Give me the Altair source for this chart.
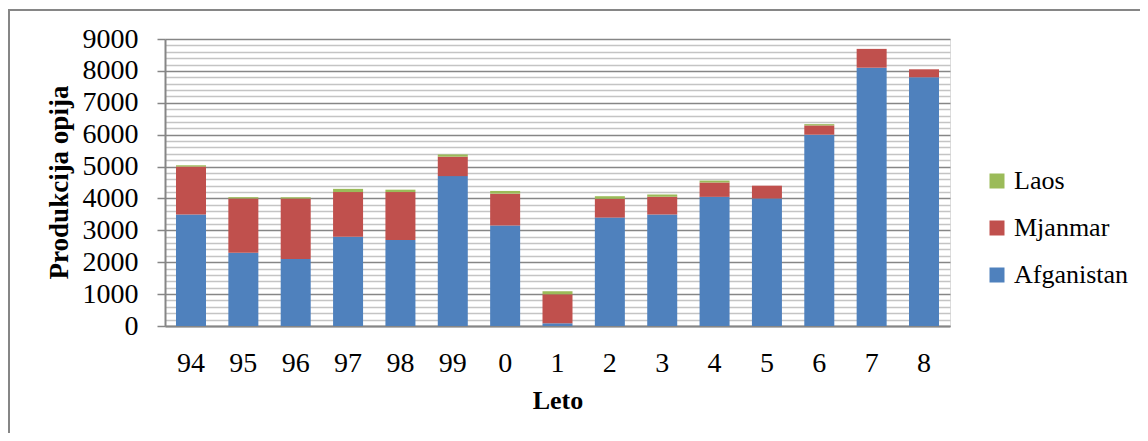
import altair as alt
import pandas as pd

years = ["94", "95", "96", "97", "98", "99", "0", "1", "2", "3", "4", "5", "6", "7", "8"]
afganistan = [3500, 2300, 2100, 2800, 2700, 4700, 3150, 85, 3400, 3500, 4050, 4000, 6000, 8100, 7800]
mjanmar = [1500, 1700, 1900, 1400, 1500, 610, 1000, 910, 590, 550, 450, 400, 290, 590, 250]
laos = [40, 40, 40, 100, 75, 70, 85, 95, 80, 75, 60, 0, 40, 0, 0]

series_names = ["Afganistan", "Mjanmar", "Laos"]
y_ticks = [v * 200 for v in range(0, 46)]

rows = []
for i, yr in enumerate(years):
    for k, (name, vals) in enumerate(zip(series_names, [afganistan, mjanmar, laos])):
        rows.append({"Leto": yr, "Država": name, "Vrednost": vals[i], "ord": k})
df = pd.DataFrame(rows)

FONT = "Liberation Serif"
GRAY = "#868686"

W, H = 785, 287
PAD_L, PAD_T = 157, 31
TOTAL_W, TOTAL_H = 1132, 425

bars = alt.Chart(df).mark_bar().encode(
    x=alt.X("Leto:N", sort=years,
            scale=alt.Scale(paddingInner=0.427, paddingOuter=0.21),
            axis=alt.Axis(title="Leto", labelAngle=0, labelFont=FONT, labelFontSize=28,
                          labelColor="#000000", labelPadding=23, ticks=False, tickSize=0,
                          domainColor=GRAY, domainWidth=2,
                          titleFont=FONT, titleFontSize=26, titleFontWeight="bold",
                          titleColor="#000000", titleBaseline="alphabetic", titleY=82)),
    y=alt.Y("sum(Vrednost):Q", stack="zero",
            scale=alt.Scale(domain=[0, 9000], nice=False),
            axis=alt.Axis(title="Produkcija opija", values=y_ticks,
                          labelExpr="datum.value % 1000 === 0 ? datum.label : ''",
                          format="d",
                          labelFont=FONT, labelFontSize=28, labelColor="#000000",
                          labelPadding=19, tickSize=8, tickColor=GRAY, tickWidth=1.5,
                          tickOpacity={"condition": {"test": "datum.value % 1000 === 0", "value": 1}, "value": 0},
                          grid=True, gridWidth=1.5,
                          gridColor={"condition": {"test": "datum.value % 1000 === 0", "value": GRAY}, "value": "#c4c4c4"},
                          domainColor=GRAY, domainWidth=2,
                          titleFont=FONT, titleFontSize=27, titleFontWeight="bold",
                          titleColor="#000000", titleX=-106, titleY=143,
                          titleBaseline="middle", titleAngle=270)),
    color=alt.Color("Država:N",
                    scale=alt.Scale(domain=["Laos", "Mjanmar", "Afganistan"],
                                    range=["#9BBB59", "#C0504D", "#4F81BD"]),
                    legend=alt.Legend(title=None, orient="none", legendX=819, legendY=129,
                                      symbolType="square", symbolSize=225, symbolStrokeWidth=0,
                                      symbolOpacity=1, labelFont=FONT, labelFontSize=26,
                                      labelColor="#000000", labelOffset=4, rowPadding=21,
                                      padding=0)),
    order=alt.Order("ord:Q", sort="ascending"),
)

one = pd.DataFrame({"a": [0]})
frame_left = alt.Chart(one).mark_rule(color=GRAY, strokeWidth=2).encode(
    x=alt.value(-156), y=alt.value(-29), y2=alt.value(TOTAL_H - PAD_T + 10))
frame_top = alt.Chart(one).mark_rule(color=GRAY, strokeWidth=2).encode(
    x=alt.value(-157), x2=alt.value(TOTAL_W - PAD_L + 10), y=alt.value(-29))

chart = alt.layer(bars, frame_left, frame_top).properties(
    width=W, height=H,
    autosize=alt.AutoSizeParams(type="none"),
    padding={"left": PAD_L, "top": PAD_T, "right": TOTAL_W - PAD_L - W, "bottom": TOTAL_H - PAD_T - H},
).configure_view(stroke=None).configure(background="#ffffff")

chart.save("out.html", embed_options={"renderer": "svg", "actions": False})
